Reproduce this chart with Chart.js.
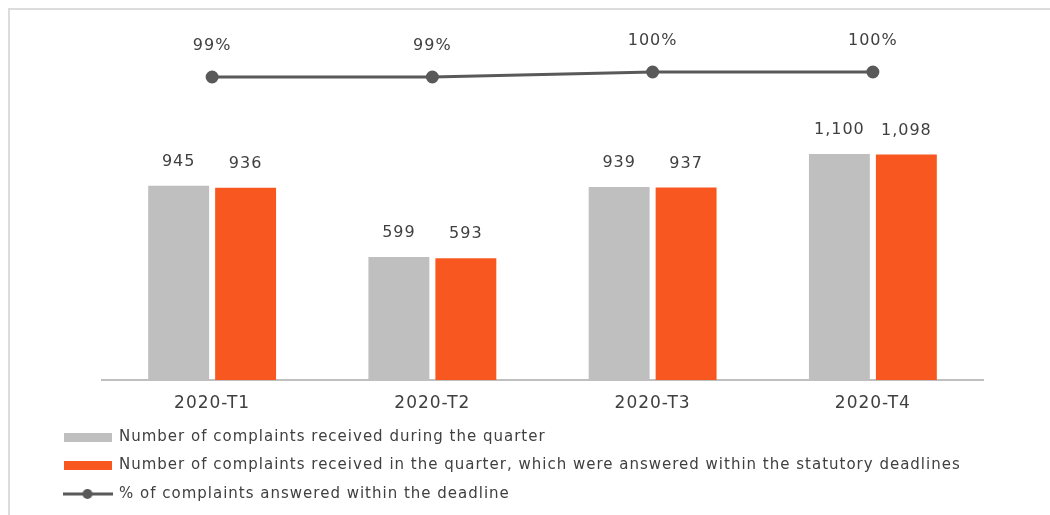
<!DOCTYPE html>
<html>
<head>
<meta charset="utf-8">
<script src="https://cdn.jsdelivr.net/npm/chart.js@4"></script>
<style>
  body { margin: 0; background: #fff; }
  #wrap { position: relative; width: 1050px; height: 515px; overflow: hidden; }
  #frame {
    position: absolute; left: 8px; top: 8px; width: 1100px; height: 600px;
    border-top: 2px solid #dcdcdc; border-left: 2px solid #dcdcdc;
  }
  #chart { position: absolute; left: 0; top: 0; }
</style>
</head>
<body>
<div id="wrap">
  <div id="frame"></div>
  <canvas id="chart" width="1050" height="515"></canvas>
</div>
<script>
const quarters = ["2020-T1", "2020-T2", "2020-T3", "2020-T4"];
const received = [945, 599, 939, 1100];
const answered = [936, 593, 937, 1098];
const answeredPct = [99, 99, 100, 100];

const seriesNames = [
  "Number of complaints received during the quarter",
  "Number of complaints received in the quarter, which were answered within the statutory deadlines",
  "% of complaints answered within the deadline",
];

const grey = "#bfbfbf";
const orange = "#f95720";
const lineGrey = "#595959";
const textColor = "#404040";
const fontFamily = "'DejaVu Sans', sans-serif";

// legend swatches drawn onto small canvases so they can be used as point styles
function swatchBox(color) {
  const c = document.createElement("canvas");
  c.width = 48;
  c.height = 9;
  const g = c.getContext("2d");
  g.fillStyle = color;
  g.fillRect(0, 0, 48, 9);
  return c;
}

function swatchLine(color) {
  const c = document.createElement("canvas");
  c.width = 50;
  c.height = 12;
  const g = c.getContext("2d");
  g.strokeStyle = color;
  g.lineWidth = 3;
  g.beginPath();
  g.moveTo(0, 6);
  g.lineTo(50, 6);
  g.stroke();
  g.fillStyle = color;
  g.beginPath();
  g.arc(25, 6, 5, 0, Math.PI * 2);
  g.fill();
  return c;
}

const swatches = [swatchBox(grey), swatchBox(orange), swatchLine(lineGrey)];

// wider tracking on all canvas text
const tracking = {
  id: "tracking",
  beforeLayout(chart) { chart.ctx.letterSpacing = "1px"; },
  beforeDraw(chart) { chart.ctx.letterSpacing = "1px"; },
};

// value labels above bars and line points
const valueLabels = {
  id: "valueLabels",
  afterDatasetsDraw(chart) {
    const ctx = chart.ctx;
    ctx.save();
    ctx.fillStyle = textColor;
    ctx.textAlign = "center";
    ctx.textBaseline = "middle";
    ctx.font = "16px " + fontFamily;
    chart.data.datasets.forEach((ds, i) => {
      const meta = chart.getDatasetMeta(i);
      const isLine = ds.type === "line";
      meta.data.forEach((el, j) => {
        const v = ds.data[j];
        const txt = isLine ? v + "%" : v.toLocaleString("en-US");
        ctx.fillText(txt, el.x, el.y - (isLine ? 31 : 24));
      });
    });
    ctx.restore();
  },
};

new Chart(document.getElementById("chart"), {
  type: "bar",
  data: {
    labels: quarters,
    datasets: [
      {
        label: seriesNames[0],
        data: received,
        backgroundColor: grey,
        yAxisID: "y",
        categoryPercentage: 0.608,
        barPercentage: 0.91,
      },
      {
        label: seriesNames[1],
        data: answered,
        backgroundColor: orange,
        yAxisID: "y",
        categoryPercentage: 0.608,
        barPercentage: 0.91,
      },
      {
        type: "line",
        label: seriesNames[2],
        data: answeredPct,
        borderColor: lineGrey,
        backgroundColor: lineGrey,
        borderWidth: 3,
        pointRadius: 5,
        pointHoverRadius: 5,
        yAxisID: "y1",
      },
    ],
  },
  options: {
    responsive: false,
    animation: false,
    layout: {
      padding: { left: 50, right: 5, top: 41, bottom: 3.5 },
    },
    scales: {
      x: {
        grid: { display: false, drawTicks: false },
        border: { display: true, color: grey, width: 2 },
        ticks: {
          color: textColor,
          padding: 13,
          font: { size: 17, family: fontFamily },
        },
        afterFit: (s) => { s.height = 36; },
      },
      y: {
        position: "left",
        min: 0,
        max: 1650,
        grid: { display: false },
        border: { display: false },
        ticks: { display: false },
        afterFit: (s) => { s.width = 52; },
      },
      y1: {
        position: "right",
        min: 38.4,
        max: 106.2,
        grid: { display: false },
        border: { display: false },
        ticks: { display: false },
        afterFit: (s) => { s.width = 62; },
      },
    },
    plugins: {
      tooltip: { enabled: false },
      legend: {
        position: "bottom",
        align: "start",
        labels: {
          usePointStyle: true,
          pointStyleWidth: 48,
          padding: 13.5,
          color: textColor,
          font: { size: 15, family: fontFamily },
          generateLabels: (chart) =>
            chart.data.datasets.map((ds, i) => ({
              text: ds.label,
              pointStyle: swatches[i],
              fillStyle: "transparent",
              strokeStyle: "transparent",
              lineWidth: 0,
              fontColor: textColor,
              datasetIndex: i,
            })),
        },
      },
    },
  },
  plugins: [tracking, valueLabels],
});
</script>
</body>
</html>
